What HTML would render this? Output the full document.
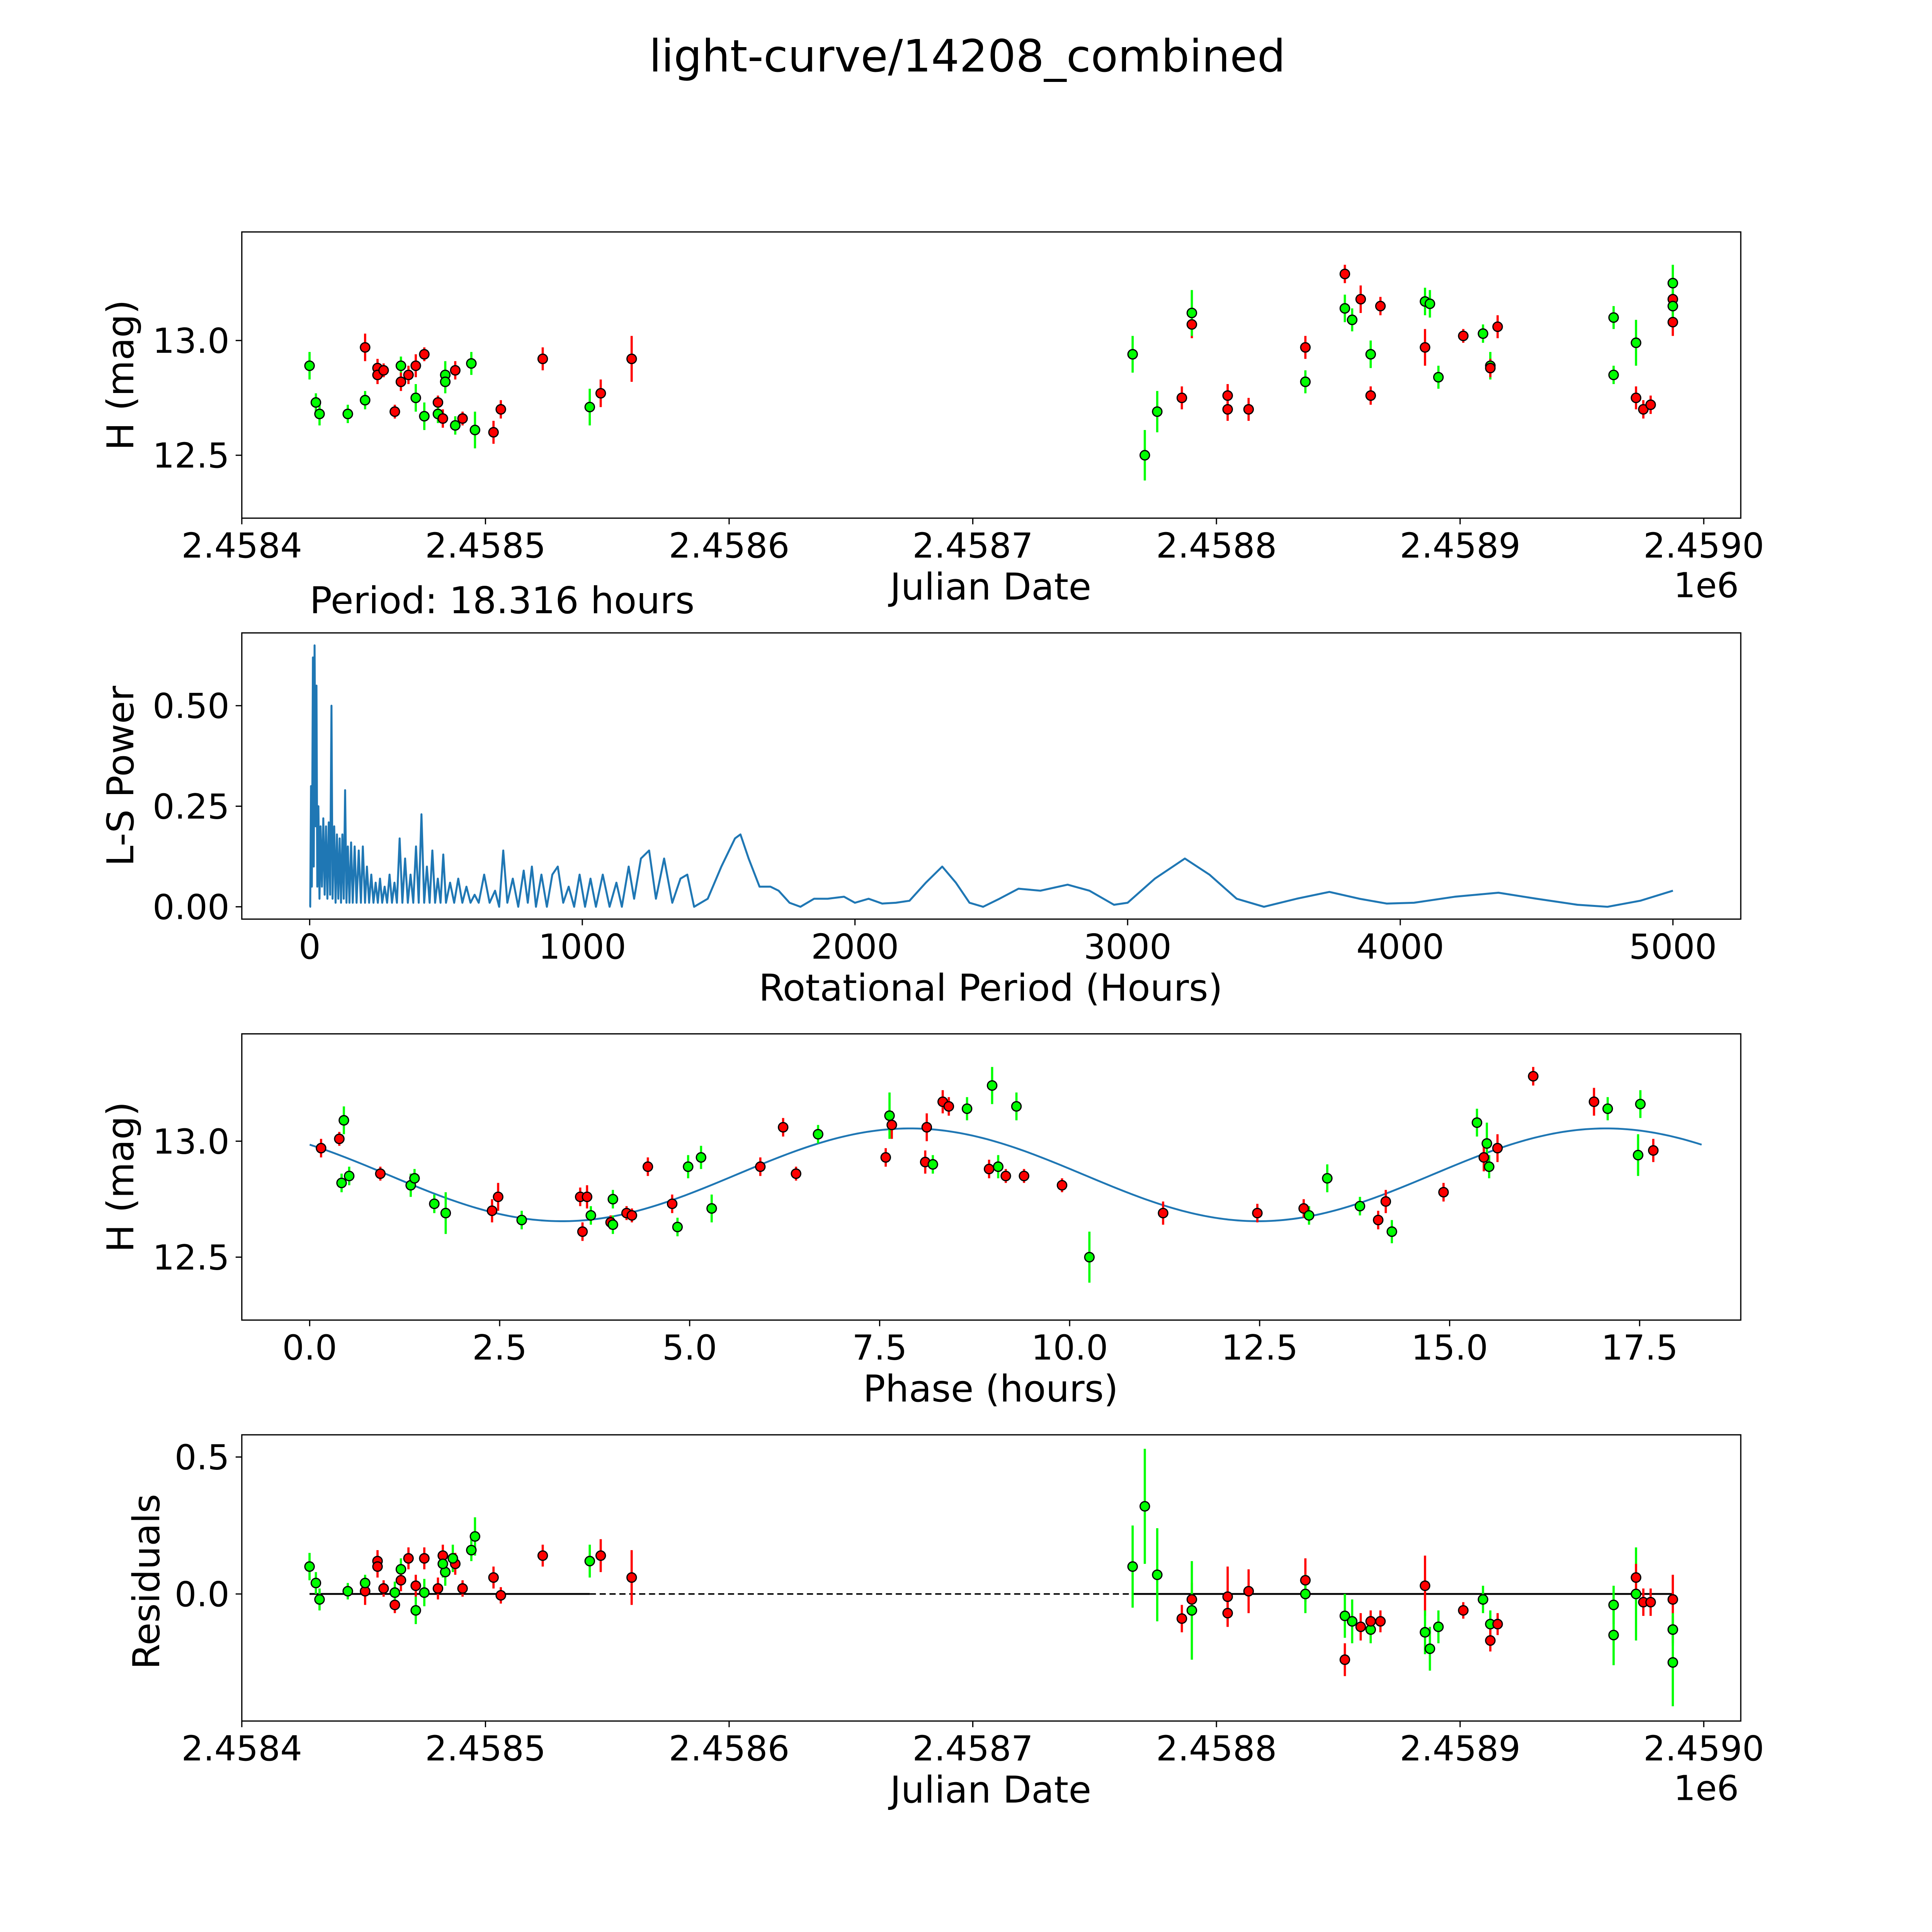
<!DOCTYPE html>
<html><head><meta charset="utf-8"><style>
html,body{margin:0;padding:0;background:#fff;width:100vw;height:100vh;overflow:hidden;}
svg{display:block;width:100vw;height:100vh;}
text{font-family:"DejaVu Sans","Liberation Sans",sans-serif;fill:#000;}
</style></head><body>
<svg id="fig" xmlns="http://www.w3.org/2000/svg" viewBox="0 0 1566 1566" preserveAspectRatio="none">
<rect x="0" y="0" width="1566" height="1566" fill="#fff"/>
<text x="784" y="58" font-size="36" text-anchor="middle">light-curve/14208_combined</text>
</svg>
<script>
// ---------- DATA ----------
// Light curve: [days since JD 2458400, H mag, error, band]
const lcPoints = [
[27.8,12.89,0.06,'g'],[30.4,12.73,0.04,'g'],[31.9,12.68,0.05,'g'],[43.5,12.68,0.04,'g'],
[50.6,12.97,0.06,'r'],[50.6,12.74,0.04,'g'],[55.7,12.88,0.04,'r'],[55.7,12.85,0.04,'r'],
[58.2,12.87,0.03,'r'],[62.8,12.69,0.03,'r'],[65.3,12.89,0.04,'g'],[65.3,12.82,0.04,'r'],
[68.4,12.85,0.04,'r'],[71.4,12.75,0.06,'g'],[71.4,12.89,0.05,'r'],[74.9,12.94,0.03,'r'],
[74.9,12.67,0.06,'g'],[80.5,12.73,0.03,'r'],[80.5,12.68,0.04,'g'],[82.5,12.66,0.04,'r'],
[83.5,12.85,0.06,'g'],[83.5,12.82,0.05,'g'],[87.6,12.87,0.04,'r'],[87.6,12.63,0.04,'g'],
[90.6,12.66,0.03,'r'],[94.2,12.90,0.05,'g'],[95.7,12.61,0.08,'g'],[103.3,12.60,0.05,'r'],
[106.3,12.70,0.04,'r'],[123.5,12.92,0.05,'r'],[142.8,12.71,0.08,'g'],[147.3,12.77,0.06,'r'],
[160.0,12.92,0.10,'r'],[365.6,12.94,0.08,'g'],[370.6,12.50,0.11,'g'],[375.7,12.69,0.09,'g'],
[385.8,12.75,0.05,'r'],[389.9,13.07,0.06,'r'],[389.9,13.12,0.10,'g'],[404.6,12.76,0.05,'r'],
[404.6,12.70,0.05,'r'],[413.2,12.70,0.05,'r'],[436.5,12.97,0.05,'r'],[436.5,12.82,0.05,'g'],
[452.7,13.29,0.04,'r'],[452.7,13.14,0.06,'g'],[455.7,13.09,0.05,'g'],[459.2,13.18,0.06,'r'],
[463.3,12.94,0.06,'g'],[463.3,12.76,0.04,'r'],[467.3,13.15,0.04,'r'],[485.6,12.97,0.08,'r'],
[485.6,13.17,0.06,'g'],[487.6,13.16,0.06,'g'],[491.1,12.84,0.05,'g'],[501.3,13.02,0.03,'r'],
[509.4,13.03,0.04,'g'],[512.4,12.89,0.06,'g'],[512.4,12.88,0.04,'r'],[515.4,13.06,0.05,'r'],
[563.0,13.10,0.05,'g'],[563.0,12.85,0.04,'g'],[572.2,12.99,0.10,'g'],[572.2,12.75,0.05,'r'],
[575.2,12.70,0.04,'r'],[578.2,12.72,0.04,'r'],[587.3,13.08,0.06,'r'],[587.3,13.18,0.05,'r'],
[587.3,13.15,0.06,'g'],[587.3,13.25,0.08,'g']
];
// Lomb-Scargle periodogram
const lsPeriod = [0,2,5,8,12,15,18,22,25,28,32,36,40,45,50,55,60,65,70,75,80,84,90,95,100,105,110,115,120,125,130,135,140,146,152,158,165,172,180,188,195,203,210,218,226,234,242,250,258,266,275,284,293,302,311,320,330,340,350,360,370,380,390,400,410,420,430,440,450,460,470,480,490,500,515,530,545,560,575,590,605,620,640,660,680,695,710,725,745,765,785,800,815,830,850,870,890,910,930,950,970,990,1010,1030,1050,1075,1100,1125,1145,1170,1190,1215,1245,1270,1300,1330,1360,1385,1410,1460,1510,1560,1580,1610,1650,1690,1720,1760,1800,1850,1900,1960,2000,2050,2100,2150,2200,2260,2320,2370,2420,2470,2530,2600,2680,2780,2860,2950,3000,3100,3210,3300,3400,3500,3620,3740,3850,3950,4050,4200,4360,4500,4650,4760,4880,5000];
const lsPower = [0,0,0.3,0.05,0.62,0.1,0.65,0.2,0.55,0.05,0.25,0.02,0.2,0.05,0.22,0.03,0.2,0.02,0.21,0.03,0.5,0.02,0.2,0.01,0.18,0.02,0.17,0.01,0.18,0.02,0.29,0.01,0.15,0.01,0.16,0.01,0.15,0.01,0.14,0.01,0.15,0.01,0.1,0.01,0.08,0.01,0.06,0.01,0.07,0.01,0.05,0.01,0.08,0.01,0.06,0.01,0.17,0.01,0.12,0.01,0.08,0.01,0.15,0.01,0.23,0.01,0.1,0.01,0.14,0.01,0.07,0.01,0.13,0.01,0.06,0.01,0.07,0.01,0.05,0.01,0.03,0.01,0.08,0.01,0.04,0.0,0.14,0.01,0.07,0.0,0.09,0.01,0.1,0.0,0.08,0.0,0.08,0.1,0.01,0.05,0.0,0.08,0.0,0.07,0.0,0.08,0.0,0.06,0.0,0.1,0.02,0.12,0.14,0.02,0.12,0.01,0.07,0.08,0.0,0.02,0.1,0.17,0.18,0.12,0.05,0.05,0.04,0.01,0.0,0.02,0.02,0.025,0.01,0.02,0.008,0.01,0.015,0.06,0.1,0.06,0.01,0.0,0.02,0.045,0.04,0.055,0.04,0.005,0.01,0.07,0.12,0.08,0.02,0.0,0.02,0.037,0.02,0.008,0.01,0.025,0.035,0.02,0.005,0.0,0.015,0.04];
// Phased points: [phase hours, H mag, error, band]
const phPoints = [
[0.15,12.97,0.04,'r'],[0.39,13.01,0.03,'r'],[0.45,13.09,0.06,'g'],[0.42,12.82,0.04,'g'],[0.52,12.85,0.04,'g'],
[0.93,12.86,0.03,'r'],[1.33,12.81,0.05,'g'],[1.38,12.84,0.04,'g'],[1.64,12.73,0.04,'g'],[1.79,12.69,0.09,'g'],
[2.40,12.70,0.05,'r'],[2.48,12.76,0.06,'r'],[2.79,12.66,0.04,'g'],[3.56,12.76,0.04,'r'],[3.65,12.76,0.05,'r'],
[3.59,12.61,0.04,'r'],[3.70,12.68,0.04,'g'],[3.96,12.65,0.03,'r'],[3.99,12.75,0.04,'g'],[3.99,12.64,0.04,'g'],
[4.17,12.69,0.03,'r'],[4.24,12.68,0.03,'r'],[4.45,12.89,0.04,'r'],[4.77,12.73,0.04,'r'],[4.84,12.63,0.04,'g'],
[4.98,12.89,0.05,'g'],[5.15,12.93,0.05,'g'],[5.29,12.71,0.06,'g'],[5.93,12.89,0.04,'r'],[6.23,13.06,0.04,'r'],
[6.40,12.86,0.03,'r'],[6.69,13.03,0.04,'g'],[7.63,13.11,0.10,'g'],[7.66,13.07,0.06,'r'],[7.58,12.93,0.04,'r'],
[8.10,12.91,0.05,'r'],[8.12,13.06,0.06,'r'],[8.20,12.90,0.04,'g'],[8.33,13.17,0.05,'r'],[8.41,13.15,0.04,'r'],
[8.65,13.14,0.05,'g'],[8.98,13.24,0.08,'g'],[8.94,12.88,0.04,'r'],[9.06,12.89,0.05,'g'],[9.16,12.85,0.03,'r'],
[9.30,13.15,0.06,'g'],[9.40,12.85,0.03,'r'],[9.90,12.81,0.03,'r'],[10.26,12.50,0.11,'g'],[11.23,12.69,0.05,'r'],
[12.47,12.69,0.04,'r'],[13.08,12.71,0.04,'r'],[13.15,12.68,0.04,'g'],[13.39,12.84,0.06,'g'],[13.82,12.72,0.04,'g'],
[14.06,12.66,0.04,'r'],[14.16,12.74,0.05,'r'],[14.24,12.61,0.05,'g'],[14.92,12.78,0.04,'r'],[15.36,13.08,0.06,'g'],
[15.45,12.93,0.06,'r'],[15.49,12.99,0.09,'g'],[15.52,12.89,0.05,'g'],[15.63,12.97,0.06,'r'],[16.10,13.28,0.04,'r'],
[16.90,13.17,0.06,'r'],[17.08,13.14,0.05,'g'],[17.48,12.94,0.09,'g'],[17.51,13.16,0.06,'g'],[17.68,12.96,0.05,'r']
];
// Fitted model parameters: [mean, amplitude, phase of max (h), period (h)]
const modelParams = [12.855, 0.2, 7.9, 9.158];
const modelRange = [0, 18.316];
// Residuals: [days since JD 2458400, residual, error, band]
const resPoints = [
[27.8,0.10,0.05,'g'],[30.4,0.04,0.04,'g'],[31.9,-0.02,0.04,'g'],[43.5,0.01,0.03,'g'],[50.6,0.01,0.05,'r'],[50.6,0.04,0.03,'g'],
[55.7,0.12,0.04,'r'],[55.7,0.10,0.04,'r'],[58.2,0.02,0.03,'r'],[62.8,-0.04,0.03,'r'],[62.8,0.005,0.04,'g'],[65.3,0.09,0.04,'g'],
[65.3,0.05,0.04,'r'],[68.4,0.13,0.04,'r'],[71.4,0.03,0.04,'r'],[71.4,-0.06,0.05,'g'],[74.9,0.13,0.04,'r'],[74.9,0.005,0.05,'g'],
[80.5,0.02,0.04,'r'],[82.5,0.14,0.04,'r'],[83.5,0.08,0.05,'g'],[82.5,0.11,0.05,'g'],[87.6,0.11,0.04,'r'],[86.6,0.13,0.05,'g'],
[90.6,0.02,0.03,'r'],[94.2,0.16,0.04,'g'],[95.7,0.21,0.07,'g'],[103.3,0.06,0.04,'r'],[106.3,-0.005,0.03,'r'],[123.5,0.14,0.04,'r'],
[142.8,0.12,0.06,'g'],[147.3,0.14,0.06,'r'],[160.0,0.06,0.10,'r'],[365.6,0.10,0.15,'g'],[370.6,0.32,0.21,'g'],[375.7,0.07,0.17,'g'],
[385.8,-0.09,0.05,'r'],[389.9,-0.02,0.06,'r'],[389.9,-0.06,0.18,'g'],[404.6,-0.01,0.11,'r'],[404.6,-0.07,0.05,'r'],[413.2,0.01,0.08,'r'],
[436.5,0.05,0.08,'r'],[436.5,0.0,0.07,'g'],[452.7,-0.24,0.06,'r'],[452.7,-0.08,0.08,'g'],[455.7,-0.10,0.08,'g'],[459.2,-0.12,0.05,'r'],
[463.3,-0.13,0.05,'g'],[463.3,-0.10,0.04,'r'],[467.3,-0.10,0.04,'r'],[485.6,0.03,0.11,'r'],[485.6,-0.14,0.08,'g'],[487.6,-0.20,0.08,'g'],
[491.1,-0.12,0.06,'g'],[501.3,-0.06,0.03,'r'],[509.4,-0.02,0.05,'g'],[512.4,-0.11,0.05,'g'],[512.4,-0.17,0.04,'r'],[515.4,-0.11,0.04,'r'],
[563.0,-0.04,0.07,'g'],[563.0,-0.15,0.11,'g'],[572.2,0.0,0.17,'g'],[572.2,0.06,0.05,'r'],[575.2,-0.03,0.05,'r'],[578.2,-0.03,0.05,'r'],
[587.3,-0.02,0.09,'r'],[587.3,-0.13,0.05,'r'],[587.3,-0.13,0.06,'g'],[587.3,-0.25,0.16,'g']
];
const jdTicks = [0,100,200,300,400,500,600];
const jdTickLabels = ['2.4584','2.4585','2.4586','2.4587','2.4588','2.4589','2.4590'];
const magTicks = [12.5,13.0];
const magTickLabels = ['12.5','13.0'];
const lsXTicks = [0,1000,2000,3000,4000,5000];
const lsXTickLabels = ['0','1000','2000','3000','4000','5000'];
const lsYTicks = [0,0.25,0.5];
const lsYTickLabels = ['0.00','0.25','0.50'];
const phTicks = [0,2.5,5,7.5,10,12.5,15,17.5];
const phTickLabels = ['0.0','2.5','5.0','7.5','10.0','12.5','15.0','17.5'];
const resTicks = [0,0.5];
const resTickLabels = ['0.0','0.5'];

// ---------- DRAWING ----------
const NS='http://www.w3.org/2000/svg';
const svg=document.getElementById('fig');
function mk(tag,attrs,parent){const e=document.createElementNS(NS,tag);for(const k in attrs)e.setAttribute(k,attrs[k]);(parent||svg).appendChild(e);return e;}
const L=196,R=1411;
const COL={g:'#00ff00',r:'#ff0000'};
const xJd=d=>196+d*1.975;
const TF=28, LF=30;
function panel(name){
  const g=mk('g',{});
  
  
  return g;
}
function frame(g,top,bot){mk('rect',{x:L,y:top,width:R-L,height:bot-top,fill:'none',stroke:'#000','stroke-width':1},g);}
function xticks(g,ticks,labels,fx,bot,name){
  ticks.forEach((t,i)=>{const x=fx(t);
    mk('line',{x1:x,y1:bot,x2:x,y2:bot+5,stroke:'#000','stroke-width':1},g);
    const tx=mk('text',{x:x,y:bot+32,'font-size':TF,'text-anchor':'middle'},g);
    
    
    tx.textContent=labels[i];});
}
function yticks(g,ticks,labels,fy,name){
  ticks.forEach((t,i)=>{const y=fy(t);
    mk('line',{x1:L,y1:y,x2:L-5,y2:y,stroke:'#000','stroke-width':1},g);
    const tx=mk('text',{x:L-10,y:y+10,'font-size':TF,'text-anchor':'end'},g);
    
    
    tx.textContent=labels[i];});
}
function label(g,txt,x,y,rot,name,size){
  const t=mk('text',{x:x,y:y,'font-size':size||LF,'text-anchor':'middle'},g);
  if(rot)t.setAttribute('transform','rotate(-90 '+x+' '+y+')');
  
  
  t.textContent=txt;return t;
}
function points(g,pts,fx,fy,name){
  pts.forEach(p=>{const x=fx(p[0]),y1=fy(p[1]-p[2]),y2=fy(p[1]+p[2]);
    const eb=mk('line',{x1:x,y1:y1,x2:x,y2:y2,stroke:COL[p[3]],'stroke-width':1.8},g);
    
    
  });
  pts.forEach(p=>{const c=mk('circle',{cx:fx(p[0]),cy:fy(p[1]),r:3.8,fill:COL[p[3]],stroke:'#000','stroke-width':1},g);
    
    
  });
}

// Panel 1
const y1=m=>276-(m-13)*186;
const p1=panel('light-curve-panel');
frame(p1,188,420);
points(p1,lcPoints,xJd,y1,'light-curve-point');
xticks(p1,jdTicks,jdTickLabels,xJd,420,'x-tick-label');
yticks(p1,magTicks,magTickLabels,y1,'y-tick-label');
label(p1,'H (mag)',108,304,true,'y-axis-title');
label(p1,'Julian Date',803,486,false,'x-axis-title');
label(p1,'1e6',1383,484,false,'x-offset-label',TF);

// Panel 2
const x2=h=>251+h*0.221, y2=v=>735-v*326;
const p2=panel('periodogram-panel');
frame(p2,513,745);
const pstr=lsPeriod.map((h,i)=>x2(h).toFixed(2)+','+y2(lsPower[i]).toFixed(2)).join(' ');
const pl=mk('polyline',{points:pstr,fill:'none',stroke:'#1f77b4','stroke-width':1.6,'stroke-linejoin':'round'},p2);


xticks(p2,lsXTicks,lsXTickLabels,x2,745,'x-tick-label');
yticks(p2,lsYTicks,lsYTickLabels,y2,'y-tick-label');
label(p2,'L-S Power',108,629,true,'y-axis-title');
label(p2,'Rotational Period (Hours)',803,811,false,'x-axis-title');
const pt=label(p2,'Period: 18.316 hours',251,497,false,'period-label');pt.setAttribute('text-anchor','start');

// Panel 3
const x3=p=>251+p*61.6, y3=m=>925-(m-13)*188;
const p3=panel('phased-curve-panel');
frame(p3,838,1070);
let ms=[];
for(let i=0;i<=300;i++){const p=modelRange[0]+(modelRange[1]-modelRange[0])*i/300;
  const m=modelParams[0]+modelParams[1]*Math.cos(2*Math.PI*(p-modelParams[2])/modelParams[3]);
  ms.push(x3(p).toFixed(2)+','+y3(m).toFixed(2));}
const ml=mk('polyline',{points:ms.join(' '),fill:'none',stroke:'#1f77b4','stroke-width':1.5},p3);


points(p3,phPoints,x3,y3,'phased-point');
xticks(p3,phTicks,phTickLabels,x3,1070,'x-tick-label');
yticks(p3,magTicks,magTickLabels,y3,'y-tick-label');
label(p3,'H (mag)',108,954,true,'y-axis-title');
label(p3,'Phase (hours)',803,1136,false,'x-axis-title');

// Panel 4
const y4=v=>1292-v*222;
const p4=panel('residuals-panel');
frame(p4,1163,1395);
const zs=mk('line',{x1:xJd(27.8),y1:y4(0),x2:xJd(142.8),y2:y4(0),stroke:'#000','stroke-width':1.5},p4);


const zd=mk('line',{x1:xJd(142.8),y1:y4(0),x2:xJd(365.6),y2:y4(0),stroke:'#000','stroke-width':1.2,'stroke-dasharray':'5,3'},p4);


const ze=mk('line',{x1:xJd(365.6),y1:y4(0),x2:xJd(587.3),y2:y4(0),stroke:'#000','stroke-width':1.5},p4);


points(p4,resPoints,xJd,y4,'residual-point');
xticks(p4,jdTicks,jdTickLabels,xJd,1395,'x-tick-label');
yticks(p4,resTicks,resTickLabels,y4,'y-tick-label');
label(p4,'Residuals',129,1282,true,'y-axis-title');
label(p4,'Julian Date',803,1461,false,'x-axis-title');
label(p4,'1e6',1383,1459,false,'x-offset-label',TF);
</script>
</body></html>
